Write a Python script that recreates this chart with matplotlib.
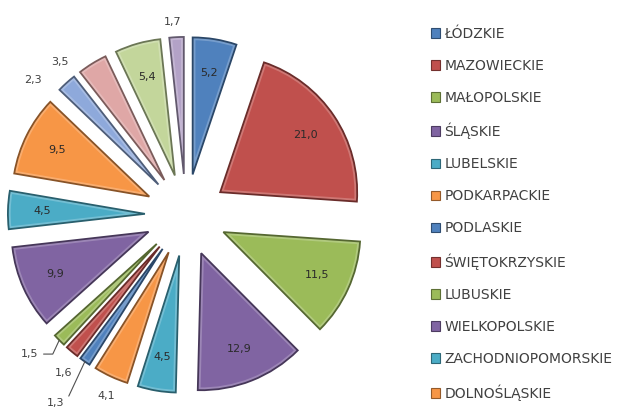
import matplotlib.pyplot as plt
import matplotlib.colors as mcolors
from matplotlib.patches import Wedge
import numpy as np

wojewodztwa = ['ŁÓDZKIE', 'MAZOWIECKIE', 'MAŁOPOLSKIE', 'ŚLĄSKIE', 'LUBELSKIE',
               'PODKARPACKIE', 'PODLASKIE', 'ŚWIĘTOKRZYSKIE', 'LUBUSKIE',
               'WIELKOPOLSKIE', 'ZACHODNIOPOMORSKIE', 'DOLNOŚLĄSKIE', 'OPOLSKIE',
               'KUJAWSKO-POMORSKIE', 'POMORSKIE', 'WARMIŃSKO-MAZURSKIE']
udzialy = [5.2, 21.0, 11.5, 12.9, 4.5, 4.1, 1.3, 1.6, 1.5, 9.9, 4.5, 9.5, 2.3, 3.5, 5.4, 1.7]

kolory = ['#4F81BD', '#C0504D', '#9BBB59', '#8064A2', '#4BACC6', '#F79646',
          '#4F81BD', '#C0504D', '#9BBB59', '#8064A2', '#4BACC6', '#F79646',
          '#8EA9DB', '#DFA7A6', '#C3D69B', '#B3A2C7']

# etykiety poza wycinkiem: odleglosc (w promieniach), przesuniecie kata, linia odniesienia
poza = {'PODKARPACKIE': (1.14, 1.5, False), 'PODLASKIE': (1.37, 0, True),
        'ŚWIĘTOKRZYSKIE': (1.16, 2.6, False), 'LUBUSKIE': (1.23, -3.8, True),
        'OPOLSKIE': (1.19, 8, False), 'KUJAWSKO-POMORSKIE': (1.15, 9.7, False),
        'WARMIŃSKO-MAZURSKIE': (1.11, 1, False)}

fig = plt.figure(figsize=(6.31, 4.08), dpi=100)
ax = fig.add_axes([0, 0, 1, 1])

R = 137
wedges, _ = ax.pie(udzialy, colors=kolory, startangle=90, counterclock=False,
                   radius=R, center=(186, 193), explode=[0.3 * R] * len(udzialy),
                   frame=True, wedgeprops=dict(linewidth=0))
ax.set_xlim(0, 631)
ax.set_ylim(0, 408)
ax.axis('off')

# efekt wypuklej krawedzi
for w, c in zip(wedges, kolory):
    rgb = np.array(mcolors.to_rgb(c))
    jasny = rgb + (1 - rgb) * 0.22
    ciemny = rgb * 0.55
    rim = Wedge(w.center, w.r, w.theta1, w.theta2, facecolor='none',
                edgecolor=jasny, linewidth=4)
    ax.add_patch(rim)
    rim.set_clip_path(w)
    obrys = Wedge(w.center, w.r, w.theta1, w.theta2, facecolor='none',
                  edgecolor=ciemny, linewidth=1.3)
    ax.add_patch(obrys)

for w, nazwa, v in zip(wedges, wojewodztwa, udzialy):
    srodek = (w.theta1 + w.theta2) / 2
    cx, cy = w.center
    tekst = f'{v:.1f}'.replace('.', ',')
    if nazwa in poza:
        d, dk, linia = poza[nazwa]
        th = np.deg2rad(srodek + dk)
        tx, ty = cx + d * R * np.cos(th), cy + d * R * np.sin(th)
        if linia:
            th0 = np.deg2rad(srodek)
            px, py = cx + R * np.cos(th0), cy + R * np.sin(th0)
            ax.annotate(tekst, xy=(px, py), xytext=(tx, ty), fontsize=8,
                        color='#404040', ha='center', va='center',
                        arrowprops=dict(arrowstyle='-', color='#505050', lw=0.8,
                                        shrinkA=2, shrinkB=0,
                                        connectionstyle='angle,angleA=0,angleB=65,rad=0'))
        else:
            ax.text(tx, ty, tekst, fontsize=8, color='#404040', ha='center', va='center')
    else:
        th = np.deg2rad(srodek)
        tx, ty = cx + 0.75 * R * np.cos(th), cy + 0.75 * R * np.sin(th)
        ax.text(tx, ty, tekst, fontsize=8, color='#2a2a2a', ha='center', va='center')

leg = ax.legend(wedges[:12], wojewodztwa[:12], loc='upper left',
                bbox_to_anchor=(418 / 631, 1 - 14 / 408), frameon=False,
                fontsize=10, labelspacing=1.3, handlelength=0.7, handleheight=0.7,
                handletextpad=0.3, labelcolor='#404040')
for h, c in zip(leg.legend_handles, kolory):
    h.set_edgecolor(np.array(mcolors.to_rgb(c)) * 0.6)
    h.set_linewidth(0.8)

fig.savefig('out.png', dpi=100)
